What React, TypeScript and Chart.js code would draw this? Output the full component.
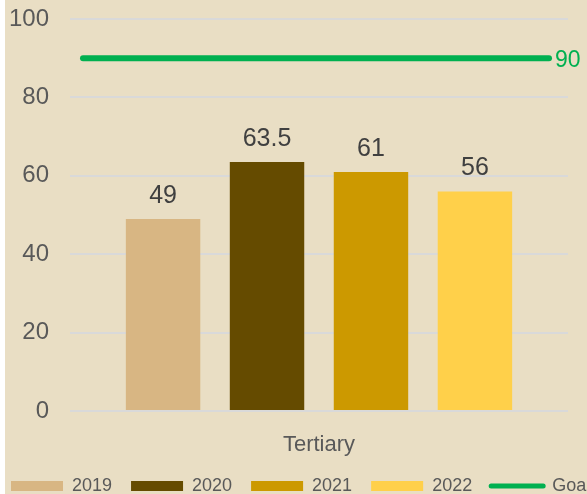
import React, { useEffect, useRef } from "react";
import { Chart, registerables } from "chart.js";

Chart.register(...registerables);

const categories = ["Tertiary"];
const seriesLabels = ["2019", "2020", "2021", "2022"];
const values2019 = [49];
const values2020 = [63.5];
const values2021 = [61];
const values2022 = [56];
const seriesColors = ["#D8B683", "#654B00", "#CC9900", "#FFD04A"];
const goalLabel = "Goal";
const goalValues = [90];
const goalColor = "#00B050";
const yMin = 0;
const yMax = 100;
const yStep = 20;

const FONT = "'Liberation Sans', Arial, sans-serif";
const BG = "#E9DEC4";
const W = 660;
const H = 505;

const barLabelPlugin = {
  id: "barLabels",
  afterDatasetsDraw(chart: any) {
    const ctx = chart.ctx;
    ctx.save();
    ctx.font = `25px ${FONT}`;
    ctx.fillStyle = "#404040";
    ctx.textAlign = "center";
    ctx.textBaseline = "alphabetic";
    chart.data.datasets.forEach((ds: any, i: number) => {
      if (ds.type === "line") return;
      const meta = chart.getDatasetMeta(i);
      meta.data.forEach((el: any, j: number) => {
        ctx.fillText(String(ds.data[j]), el.x, el.y - 16);
      });
    });
    ctx.restore();
  },
};

// Goal reference line: drawn across the plot at the goal value via the y scale
const goalLinePlugin = {
  id: "goalLine",
  afterDatasetsDraw(chart: any) {
    const ctx = chart.ctx;
    const area = chart.chartArea;
    const yScale = chart.scales.y;
    chart.data.datasets.forEach((ds: any) => {
      if (ds.type !== "line") return;
      const v = ds.data[0];
      const y = yScale.getPixelForValue(v);
      const x0 = area.left + 13;
      const x1 = area.right - 19;
      ctx.save();
      ctx.strokeStyle = ds.borderColor;
      ctx.lineWidth = ds.borderWidth;
      ctx.lineCap = "round";
      ctx.beginPath();
      ctx.moveTo(x0, y);
      ctx.lineTo(x1, y);
      ctx.stroke();
      ctx.font = `23px ${FONT}`;
      ctx.fillStyle = ds.borderColor;
      ctx.textAlign = "left";
      ctx.textBaseline = "middle";
      ctx.fillText(String(v), x1 + 6, y + 2);
      ctx.restore();
    });
  },
};

export default function App() {
  const ref = useRef<HTMLCanvasElement | null>(null);

  useEffect(() => {
    if (!ref.current) return;
    const barDs = (k: number, data: number[]) => ({
      label: seriesLabels[k],
      data,
      backgroundColor: seriesColors[k],
    });
    const chart = new Chart(ref.current, {
      type: "bar",
      data: {
        labels: categories,
        datasets: [
          barDs(0, values2019),
          barDs(1, values2020),
          barDs(2, values2021),
          barDs(3, values2022),
          {
            type: "line",
            label: goalLabel,
            data: goalValues,
            borderColor: goalColor,
            backgroundColor: goalColor,
            borderWidth: 6,
            borderCapStyle: "round",
            pointRadius: 0,
            showLine: false,
          } as any,
        ],
      },
      options: {
        responsive: false,
        animation: false,
        devicePixelRatio: 1,
        layout: { padding: { left: 0, right: 0, top: 19, bottom: 0 } },
        datasets: {
          bar: { categoryPercentage: 0.835, barPercentage: 0.716 },
        },
        scales: {
          x: {
            type: "category",
            offset: true,
            grid: { display: false, drawTicks: false },
            border: { display: false },
            ticks: { color: "#595959", font: { family: FONT, size: 22 }, padding: 21 },
            afterFit(scale: any) {
              scale.height = 47;
            },
          },
          y: {
            position: "left",
            min: yMin,
            max: yMax,
            ticks: {
              stepSize: yStep,
              color: "#595959",
              font: { family: FONT, size: 24 },
              padding: 21,
            },
            grid: { color: "#D9D9D9", lineWidth: 2, drawTicks: false },
            border: { display: false },
            afterFit(scale: any) {
              scale.width = 78;
              scale.paddingTop = 0;
              scale.paddingBottom = 0;
            },
          },
          yRight: {
            type: "linear",
            position: "right",
            display: true,
            ticks: { display: false },
            grid: { display: false, drawTicks: false },
            border: { display: false },
            afterFit(scale: any) {
              scale.width = W - 576;
              scale.paddingTop = 0;
              scale.paddingBottom = 0;
            },
          },
        },
        plugins: {
          tooltip: { enabled: false },
          legend: {
            position: "bottom",
            align: "start",
            labels: {
              color: "#595959",
              font: { family: FONT, size: 18 },
              boxWidth: 52,
              boxHeight: 10,
              padding: 19,
              usePointStyle: true,
              pointStyleWidth: 52,
              generateLabels(chart: any) {
                const items = Chart.defaults.plugins.legend.labels.generateLabels(chart);
                return items.map((it: any) => {
                  const ds = chart.data.datasets[it.datasetIndex];
                  if (ds.type === "line") {
                    return { ...it, pointStyle: "line", lineWidth: 5, strokeStyle: goalColor, lineCap: "round" };
                  }
                  return { ...it, pointStyle: "rect", lineWidth: 0 };
                });
              },
            },
          },
        },
      },
      plugins: [barLabelPlugin, goalLinePlugin],
    } as any);
    return () => chart.destroy();
  }, []);

  return (
    <div style={{ position: "fixed", left: 0, top: 0, width: 587, height: 494, overflow: "hidden", background: "#fff" }}>
      <div style={{ position: "absolute", left: 5, top: 0, width: 582, height: 494, background: BG }} />
      <canvas
        ref={ref}
        width={W}
        height={H}
        style={{ position: "absolute", left: -8, top: 0, width: W, height: H }}
      />
    </div>
  );
}
